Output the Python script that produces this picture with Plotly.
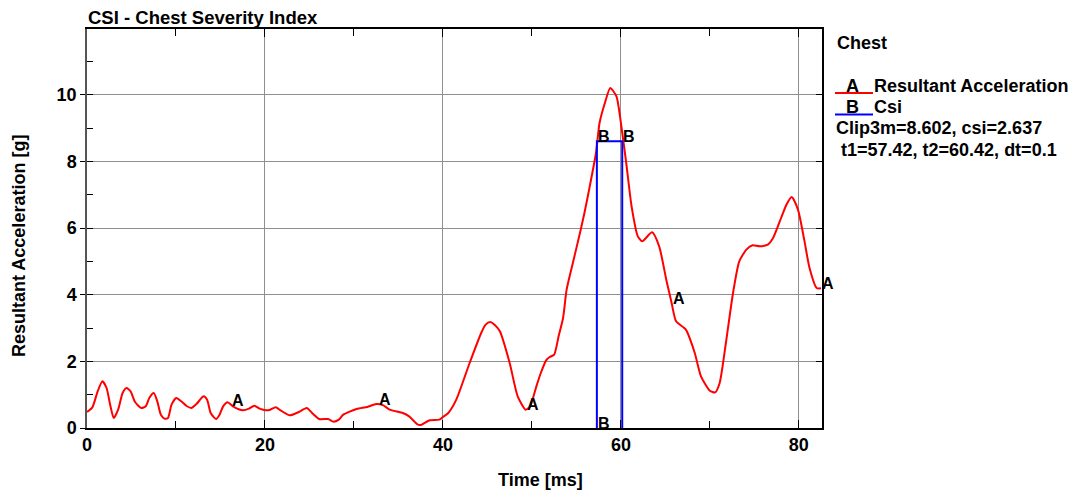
import numpy as np
import plotly.graph_objects as go

# ---- data ----
time_ms = [0.0, 0.6, 1.2, 1.73, 2.2, 2.6, 3.0, 3.5, 4.0, 4.43, 4.9, 5.4, 6.1, 6.6, 7.0, 7.5,
           7.9, 8.3, 8.73, 9.1, 9.5, 10.04, 10.6, 11.2, 11.72, 12.3, 13.1, 13.5, 13.9, 14.5,
           14.9, 15.3, 15.8, 16.4, 17.5, 18.2, 18.8, 19.4, 20.1, 20.6, 21.2, 21.8, 22.8, 23.8,
           24.7, 25.3, 26.1, 27.1, 27.7, 28.3, 28.8, 30.3, 31.5, 32.5, 33.3, 34.0, 35.5, 36.2,
           37.2, 37.6, 38.5, 39.6, 40.0, 40.6, 41.5, 43.0, 44.3, 44.8, 45.3, 45.8, 46.4, 47.5, 48.4, 49.3,
           49.8, 50.5, 51.0, 51.6, 52.0, 52.5, 53.0, 53.5, 53.9, 54.6, 55.4, 55.9, 56.5, 57.2,
           57.6, 58.2, 58.8, 59.5, 60.0, 60.6, 61.2, 61.9, 62.4, 63.5, 64.3, 65.1, 65.7, 66.2,
           67.3, 68.3, 69.0, 70.0, 70.6, 71.1, 71.8, 72.6, 73.3, 74.1, 74.8, 75.6, 76.5, 77.1,
           78.0, 78.6, 79.2, 79.9, 80.6, 81.2, 82.0, 82.5]
accel_g = [0.48, 0.62, 1.1, 1.40, 1.2, 0.7, 0.30, 0.55, 1.05, 1.20, 1.1, 0.78, 0.60, 0.65, 0.9, 1.05,
           0.8, 0.4, 0.28, 0.30, 0.7, 0.90, 0.8, 0.66, 0.60, 0.72, 0.95, 0.85, 0.45, 0.27,
           0.40, 0.65, 0.77, 0.65, 0.53, 0.58, 0.67, 0.58, 0.53, 0.55, 0.62, 0.52, 0.38, 0.48,
           0.60, 0.45, 0.27, 0.27, 0.19, 0.25, 0.40, 0.57, 0.63, 0.72, 0.68, 0.55, 0.45, 0.35,
           0.10, 0.10, 0.23, 0.25, 0.33, 0.45, 0.85, 1.95, 2.85, 3.1, 3.18, 3.1, 2.9, 1.95, 0.95, 0.55,
           0.65, 1.25, 1.65, 2.03, 2.13, 2.2, 2.75, 3.3, 4.15, 4.95, 5.85, 6.45, 7.25, 8.25,
           9.15, 9.75, 10.2, 9.95, 9.15, 7.95, 6.65, 5.75, 5.6, 5.87, 5.45, 4.45, 3.75, 3.2,
           2.95, 2.25, 1.55, 1.12, 1.07, 1.35, 2.55, 4.05, 5.0, 5.35, 5.48, 5.45, 5.5, 5.7,
           6.3, 6.7, 6.93, 6.55, 5.65, 4.8, 4.2, 4.19]

csi_t = [57.3, 57.3, 60.15, 60.15]
csi_v = [0.0, 8.6, 8.6, 0.0]

a_label_t = [16.2, 32.7, 49.3, 65.7, 82.5]
b_label_idx = [0, 1, 2]

x_ticks = [0, 20, 40, 60, 80]
y_ticks = [0, 2, 4, 6, 8, 10]

title_text = "CSI - Chest Severity Index"
x_title = "Time [ms]"
y_title = "Resultant Acceleration [g]"
legend_head = "Chest"
series_a_name = "Resultant Acceleration"
series_b_name = "Csi"
info1 = "Clip3m=8.602, csi=2.637"
info2 = " t1=57.42, t2=60.42, dt=0.1"

# ---- layout geometry (page has an 8px body margin) ----
OFF = 8
W, H = 1080 - OFF, 494 - OFF
L, T = 87 - OFF, 29 - OFF
R = W - (822 - OFF)
B = H - (428 - OFF)
PW, PH = W - L - R, H - T - B
FONT = "Liberation Sans, Arial, sans-serif"


def px(xp):
    """page x pixel -> paper x"""
    return (xp - OFF - L) / PW


def py(yp):
    """page y pixel -> paper y"""
    return (H - B - (yp - OFF)) / PH


fig = go.Figure()
fig.add_trace(go.Scatter(x=time_ms, y=accel_g, mode="lines",
                         line=dict(color="#ff0000", width=2, shape="spline", smoothing=0.6),
                         showlegend=False, hoverinfo="skip"))
fig.add_trace(go.Scatter(x=csi_t, y=csi_v, mode="lines",
                         line=dict(color="#0000ff", width=2),
                         showlegend=False, hoverinfo="skip"))
fig.add_trace(go.Scatter(x=[time_ms[0]], y=[accel_g[0]], yaxis="y2", mode="markers",
                         marker=dict(opacity=0), showlegend=False, hoverinfo="skip"))

ann = []
lab_font = dict(family=FONT, size=16, color="black")
for t in a_label_t:
    ann.append(dict(x=t, y=float(np.interp(t, time_ms, accel_g)), text="<b>A</b>", showarrow=False,
                    xanchor="left", yanchor="middle", yshift=5, xshift=-1, font=lab_font))
for i in b_label_idx:
    ann.append(dict(x=csi_t[i], y=csi_v[i], text="<b>B</b>", showarrow=False,
                    xanchor="left", yanchor="middle", yshift=5, xshift=-1, font=lab_font))

big = dict(family=FONT, size=18, color="black")
ann.append(dict(xref="paper", yref="paper", x=px(86), y=py(17.5), text="<b>%s</b>" % title_text,
                showarrow=False, xanchor="left", yanchor="middle",
                font=dict(family=FONT, size=18.5, color="black")))
ann.append(dict(xref="paper", yref="paper", x=px(540), y=py(480), text="<b>%s</b>" % x_title,
                showarrow=False, xanchor="center", yanchor="middle", font=big))
ann.append(dict(xref="paper", yref="paper", x=px(19), y=py(246), text="<b>%s</b>" % y_title,
                showarrow=False, xanchor="center", yanchor="middle", textangle=-90, font=big))

leg_font = dict(family=FONT, size=18, color="black")
ann.append(dict(xref="paper", yref="paper", x=px(835), y=py(43), text="<b>%s</b>" % legend_head,
                showarrow=False, xanchor="left", yanchor="middle", font=leg_font))
ann.append(dict(xref="paper", yref="paper", x=px(853), y=py(86), text="<b>A</b>",
                showarrow=False, xanchor="center", yanchor="middle", font=leg_font))
ann.append(dict(xref="paper", yref="paper", x=px(872), y=py(86), text="<b>%s</b>" % series_a_name,
                showarrow=False, xanchor="left", yanchor="middle", font=leg_font))
ann.append(dict(xref="paper", yref="paper", x=px(853), y=py(107), text="<b>B</b>",
                showarrow=False, xanchor="center", yanchor="middle", font=leg_font))
ann.append(dict(xref="paper", yref="paper", x=px(872), y=py(107), text="<b>%s</b>" % series_b_name,
                showarrow=False, xanchor="left", yanchor="middle", font=leg_font))
ann.append(dict(xref="paper", yref="paper", x=px(834), y=py(128), text="<b>%s</b>" % info1,
                showarrow=False, xanchor="left", yanchor="middle", font=leg_font))
ann.append(dict(xref="paper", yref="paper", x=px(834), y=py(150), text="<b>%s</b>" % info2,
                showarrow=False, xanchor="left", yanchor="middle", font=leg_font))

shapes = [
    dict(type="line", xref="paper", yref="paper", x0=px(835), x1=px(873), y0=py(93), y1=py(93),
         line=dict(color="#ff0000", width=2)),
    dict(type="line", xref="paper", yref="paper", x0=px(835), x1=px(873), y0=py(114.5), y1=py(114.5),
         line=dict(color="#0000ff", width=2)),
]

fig.update_layout(
    width=W, height=H, autosize=False,
    margin=dict(l=L, r=R, t=T, b=B, pad=0),
    paper_bgcolor="white", plot_bgcolor="white",
    font=dict(family=FONT, size=18, color="black"),
    xaxis=dict(range=[0, 82.6], tickvals=x_ticks, ticktext=["<b>%d</b>" % v for v in x_ticks],
               showgrid=True, gridcolor="#8f8f8f", gridwidth=1,
               showline=True, linecolor="black", linewidth=1.5, mirror="ticks",
               ticks="inside", ticklen=8, tickcolor="black",
               minor=dict(ticks="inside", ticklen=7, dtick=10, tick0=0, tickcolor="black", showgrid=False),
               zeroline=False, tickfont=dict(family=FONT, size=18)),
    yaxis=dict(range=[0, 11.97], tickvals=y_ticks, ticktext=["<b>%d</b>" % v for v in y_ticks],
               showgrid=True, gridcolor="#8f8f8f", gridwidth=1,
               showline=True, linecolor="#555555", linewidth=1.5, mirror=False,
               ticks="outside", ticklen=5, tickcolor="black",
               minor=dict(ticks="inside", ticklen=6, dtick=1, tick0=0, tickcolor="black", showgrid=False),
               zeroline=False, tickfont=dict(family=FONT, size=18)),
    yaxis2=dict(range=[0, 11.97], overlaying="y", side="right", tickvals=y_ticks,
                showticklabels=False, showgrid=False, zeroline=False,
                showline=True, linecolor="black", linewidth=1.5,
                ticks="inside", ticklen=6, tickcolor="black"),
    annotations=ann, shapes=shapes,
)

fig.write_html("out.html")
